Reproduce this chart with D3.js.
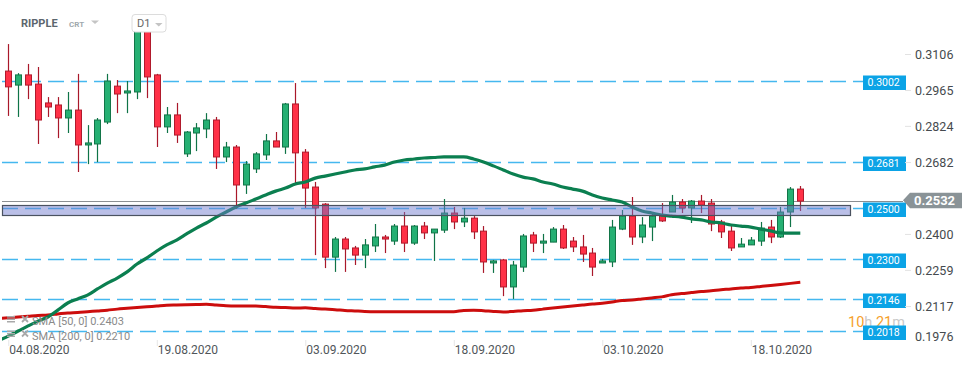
<!DOCTYPE html>
<html><head><meta charset="utf-8">
<script src="https://cdn.jsdelivr.net/npm/d3@7"></script>
<style>body{margin:0;background:#fff;} svg{display:block;font-family:Roboto, "DejaVu Sans", sans-serif;}</style>
</head><body><svg id="c" width="974" height="368"></svg>
<script>
// ---- data ----
const firstDay = "2020-08-04";   // first candle
const lastDay  = "2020-10-23";   // last candle
const smaFirstDay = "2020-08-03";
const open = [0.3039,0.2984,0.3024,0.2988,0.2914,0.2906,0.2855,0.2886,0.2749,0.2753,
0.2839,0.2980,0.2953,0.2957,0.3232,0.3024,0.2820,0.2867,0.2714,0.2796,
0.2812,0.2847,0.2702,0.2741,0.2592,0.2655,0.2710,0.2765,0.2741,0.2910,
0.2721,0.2584,0.2517,0.2309,0.2380,0.2345,0.2317,0.2353,0.2388,0.2372,
0.2431,0.2364,0.2431,0.2404,0.2415,0.2482,0.2447,0.2462,0.2411,0.2286,
0.2298,0.2192,0.2270,0.2396,0.2364,0.2368,0.2419,0.2372,0.2349,0.2325,
0.2286,0.2290,0.2419,0.2470,0.2388,0.2427,0.2474,0.2486,0.2525,0.2502,
0.2529,0.2521,0.2447,0.2411,0.2349,0.2357,0.2372,0.2427,0.2388,0.2486,
0.2576];
const high = [0.3145,0.3031,0.3067,0.3055,0.2937,0.2937,0.2957,0.3028,0.2827,0.2855,
0.3028,0.3004,0.3000,0.3247,0.3255,0.3028,0.2898,0.2914,0.2804,0.2835,
0.2874,0.2859,0.2761,0.2749,0.2686,0.2721,0.2792,0.2800,0.2914,0.2992,
0.2733,0.2604,0.2521,0.2388,0.2388,0.2353,0.2380,0.2439,0.2396,0.2439,
0.2486,0.2435,0.2447,0.2419,0.2537,0.2506,0.2502,0.2470,0.2431,0.2298,
0.2302,0.2294,0.2400,0.2408,0.2400,0.2427,0.2435,0.2388,0.2396,0.2345,
0.2302,0.2455,0.2494,0.2545,0.2466,0.2486,0.2521,0.2553,0.2537,0.2533,
0.2553,0.2537,0.2455,0.2431,0.2384,0.2388,0.2447,0.2455,0.2506,0.2584,
0.2588];
const low = [0.2863,0.2859,0.2929,0.2753,0.2859,0.2776,0.2796,0.2643,0.2674,0.2682,
0.2831,0.2874,0.2874,0.2929,0.2933,0.2741,0.2796,0.2757,0.2702,0.2725,
0.2776,0.2655,0.2682,0.2498,0.2557,0.2639,0.2690,0.2741,0.2714,0.2600,
0.2502,0.2317,0.2266,0.2251,0.2251,0.2278,0.2266,0.2329,0.2325,0.2357,
0.2329,0.2357,0.2380,0.2294,0.2404,0.2419,0.2427,0.2380,0.2247,0.2247,
0.2156,0.2145,0.2251,0.2329,0.2325,0.2368,0.2341,0.2329,0.2290,0.2235,
0.2286,0.2270,0.2415,0.2357,0.2364,0.2372,0.2447,0.2486,0.2482,0.2443,
0.2482,0.2411,0.2384,0.2333,0.2349,0.2357,0.2353,0.2364,0.2384,0.2427,
0.2490];
const close = [0.2977,0.3024,0.2984,0.2847,0.2898,0.2855,0.2886,0.2749,0.2757,0.2847,
0.3000,0.2949,0.2961,0.3232,0.3016,0.2820,0.2867,0.2788,0.2800,0.2816,
0.2847,0.2702,0.2741,0.2592,0.2674,0.2714,0.2765,0.2741,0.2910,0.2718,
0.2580,0.2502,0.2309,0.2380,0.2341,0.2317,0.2357,0.2388,0.2380,0.2431,
0.2364,0.2431,0.2404,0.2419,0.2482,0.2447,0.2462,0.2408,0.2290,0.2294,
0.2192,0.2278,0.2392,0.2364,0.2372,0.2419,0.2345,0.2349,0.2321,0.2270,
0.2294,0.2427,0.2470,0.2388,0.2435,0.2470,0.2451,0.2525,0.2502,0.2529,
0.2513,0.2439,0.2408,0.2345,0.2360,0.2376,0.2423,0.2388,0.2486,0.2576,
0.2529];
const sma50 = [0.1981, 0.1999,0.2019,0.2039,0.2058,0.2074,0.2101,0.2129,0.2145,0.2160,0.2184,
0.2207,0.2227,0.2251,0.2282,0.2306,0.2333,0.2357,0.2376,0.2400,0.2423,
0.2443,0.2466,0.2486,0.2506,0.2521,0.2537,0.2553,0.2568,0.2580,0.2596,
0.2604,0.2619,0.2627,0.2635,0.2643,0.2651,0.2655,0.2663,0.2670,0.2682,
0.2690,0.2694,0.2698,0.2700,0.2702,0.2702,0.2702,0.2694,0.2682,0.2667,
0.2651,0.2635,0.2623,0.2616,0.2604,0.2596,0.2584,0.2576,0.2568,0.2553,
0.2541,0.2533,0.2525,0.2506,0.2490,0.2482,0.2474,0.2470,0.2466,0.2459,
0.2455,0.2447,0.2443,0.2435,0.2431,0.2427,0.2419,0.2412,0.2404,0.2403,0.2403];
const sma200 = [0.2068, 0.2071,0.2074,0.2077,0.2080,0.2082,0.2086,0.2090,0.2092,0.2095,0.2098,
0.2101,0.2105,0.2108,0.2111,0.2114,0.2117,0.2120,0.2121,0.2122,0.2123,
0.2124,0.2121,0.2118,0.2117,0.2117,0.2117,0.2115,0.2112,0.2111,0.2109,
0.2110,0.2107,0.2105,0.2103,0.2100,0.2098,0.2096,0.2095,0.2095,0.2095,
0.2095,0.2095,0.2095,0.2095,0.2095,0.2095,0.2100,0.2101,0.2099,0.2096,
0.2094,0.2096,0.2099,0.2101,0.2105,0.2109,0.2113,0.2117,0.2121,0.2125,
0.2128,0.2133,0.2139,0.2141,0.2145,0.2149,0.2153,0.2161,0.2166,0.2170,
0.2174,0.2177,0.2181,0.2184,0.2188,0.2190,0.2194,0.2198,0.2202,0.2206,0.2210];
const levels = [0.3002, 0.2681, 0.2500, 0.2300, 0.2146, 0.2018];
const levelLabels = ["0.3002","0.2681","0.2500","0.2300","0.2146","0.2018"];
const band = [0.2474, 0.2513];
const lastPrice = 0.2532;
const lastPriceLabel = "0.2532";
const yTicks = [0.3106, 0.2965, 0.2824, 0.2682, 0.2400, 0.2259, 0.2117, 0.1976];
const yTickLabels = ["0.3106","0.2965","0.2824","0.2682","0.2400","0.2259","0.2117","0.1976"];
const xTickDates = ["2020-08-04","2020-08-19","2020-09-03","2020-09-18","2020-10-03","2020-10-18"];
const legendTexts = ["SMA [50, 0] 0.2403", "SMA [200, 0] 0.2210"];

// ---- scales ----
const parse = d3.utcParse("%Y-%m-%d");
const days = d3.utcDay.range(parse(firstDay), d3.utcDay.offset(parse(lastDay), 1));
const smaDays = d3.utcDay.range(parse(smaFirstDay), d3.utcDay.offset(parse(lastDay), 1));
const candles = days.map((d, i) => ({d, o: open[i], h: high[i], l: low[i], c: close[i]}));

const x = d3.scaleUtc().domain([parse(firstDay), parse(lastDay)]).range([8.3, 800.3]);
const y = d3.scaleLinear().domain([0.1976, 0.3106]).range([342, 54]);

const svg = d3.select("#c");
svg.append("defs").append("clipPath").attr("id", "plot")
  .append("rect").attr("x", 2).attr("y", 0).attr("width", 903).attr("height", 345);

// level dashed lines
const lv = svg.append("g");
lv.selectAll("line").data(levels).join("line")
  .attr("x1", 2).attr("x2", 863)
  .attr("y1", d => Math.round(y(d)) + 0.5).attr("y2", d => Math.round(y(d)) + 0.5)
  .attr("stroke", "#45b8ef").attr("stroke-width", 1.6)
  .attr("stroke-dasharray", "16 7");

// last price line
svg.append("line").attr("x1", 2).attr("x2", 903)
  .attr("y1", Math.round(y(lastPrice)) + 1.5).attr("y2", Math.round(y(lastPrice)) + 1.5)
  .attr("stroke", "#8b8f92").attr("stroke-width", 1);

// candles
const cg = svg.append("g").attr("clip-path", "url(#plot)");
const up = d => d.c >= d.o;
const cand = cg.selectAll("g").data(candles).join("g");
cand.append("line")
  .attr("x1", d => Math.round(x(d.d)) + 0.5).attr("x2", d => Math.round(x(d.d)) + 0.5)
  .attr("y1", d => y(d.h)).attr("y2", d => y(d.l))
  .attr("stroke", d => up(d) ? "#0f7447" : "#a9182a").attr("stroke-width", 1.2);
cand.append("rect")
  .attr("x", d => Math.round(x(d.d)) - 2.5).attr("width", 6)
  .attr("y", d => y(Math.max(d.o, d.c)))
  .attr("height", d => Math.max(1, Math.abs(y(d.o) - y(d.c))))
  .attr("fill", d => up(d) ? "#26b073" : "#ff3147")
  .attr("stroke", d => up(d) ? "#127548" : "#b01a2c").attr("stroke-width", 1);

// SMA lines
const lineGen = arr => d3.line().x((d, i) => x(smaDays[i])).y(d => y(d)).curve(d3.curveMonotoneX)(arr);
cg.append("path").attr("d", lineGen(sma200)).attr("fill", "none")
  .attr("stroke", "#cc0d0d").attr("stroke-width", 3).attr("stroke-linejoin", "round");
cg.append("path").attr("d", lineGen(sma50)).attr("fill", "none")
  .attr("stroke", "#0b7f50").attr("stroke-width", 3.2).attr("stroke-linejoin", "round");

// support band
svg.append("rect").attr("x", 2.5).attr("width", 848)
  .attr("y", Math.round(y(band[1])) + 0.5)
  .attr("height", Math.round(y(band[0])) - Math.round(y(band[1])))
  .attr("fill", "rgba(110,122,205,0.48)").attr("stroke", "#4a5260").attr("stroke-width", 1.2);

// timer (drawn under the level labels, as in the reference)
const tm = svg.append("text").attr("x", 848).attr("y", 327).attr("font-size", 14.5);
tm.append("tspan").attr("fill", "#f6a02a").text("10");
tm.append("tspan").attr("fill", "#c9c9c9").text("h ");
tm.append("tspan").attr("fill", "#f6a02a").text("21");
tm.append("tspan").attr("fill", "#c9c9c9").text("m");

// level labels
const ll = svg.append("g").selectAll("g").data(levels).join("g")
  .attr("transform", d => `translate(863,${Math.round(y(d)) - 5.5})`);
ll.append("rect").attr("width", 43).attr("height", 14.5).attr("fill", "#0ba3e6");
ll.append("text").attr("x", 4.5).attr("y", 10.5).attr("fill", "#fff")
  .attr("font-size", 10.5).text((d, i) => levelLabels[i]);

// right axis
const ra = svg.append("g").attr("transform", "translate(905,0)")
  .call(d3.axisRight(y).tickValues(yTicks).tickSize(6).tickPadding(4)
    .tickFormat((d, i) => yTickLabels[i]));
ra.select(".domain").remove();
ra.selectAll(".tick line").attr("stroke", "#e2e2e2");
ra.selectAll(".tick text").attr("fill", "#454a4e").attr("font-size", 12.5)
  .attr("font-family", "Roboto, sans-serif")
  .attr("dy", (d, i) => i === yTicks.length - 1 ? "-0.1em" : "0.34em");
ra.selectAll(".tick").filter((d, i) => i === yTicks.length - 1).select("line").remove();

// last price tag
const ly = y(lastPrice);
svg.append("path")
  .attr("d", `M903,${ly} L910,${ly - 7.5} L962,${ly - 7.5} L962,${ly + 8} L910,${ly + 8} Z`)
  .attr("fill", "#8a9397");
svg.append("text").attr("x", 914).attr("y", ly + 5).attr("fill", "#fff")
  .attr("font-size", 13).attr("font-weight", "bold").text(lastPriceLabel);

// x axis
const xa = svg.append("g").attr("transform", "translate(0,340)")
  .call(d3.axisBottom(x).tickValues(xTickDates.map(parse)).tickSize(6)
    .tickFormat(d3.utcFormat("%d.%m.%Y")));
xa.select(".domain").remove();
xa.selectAll(".tick line").attr("stroke", "#e6e6e6");
xa.selectAll(".tick text").attr("text-anchor", "start").attr("x", 0.5).attr("y", 14).attr("dy", 0)
  .attr("fill", "#50565a").attr("font-size", 12).attr("font-family", "Roboto, sans-serif");

// legend
const lg = svg.append("g");
legendTexts.forEach((t, i) => {
  const by = 325 + i * 14.5;
  [0, 2.5, 5].forEach(o => lg.append("rect").attr("x", 7).attr("y", by - 9 + o).attr("width", 8).attr("height", 1.5).attr("fill", "#a9a9a9"));
  lg.append("path").attr("d", `M22,${by - 9} L28,${by - 3} M28,${by - 9} L22,${by - 3}`)
    .attr("stroke", "#a9a9a9").attr("stroke-width", 1.8);
  lg.append("text").attr("x", 32).attr("y", by).attr("fill", "#8a8a8a")
    .attr("font-size", 11).text(t);
});

// header
svg.append("text").attr("x", 21).attr("y", 26.7).attr("font-size", 11).attr("font-weight", "bold")
  .attr("fill", "#5c666e").text("RIPPLE");
svg.append("text").attr("x", 69).attr("y", 26.7).attr("font-size", 8).attr("font-weight", "bold")
  .attr("fill", "#a0a8ad").text("CRT");
svg.append("path").attr("d", "M91,20.5 L99,20.5 L95,24 Z").attr("fill", "#c4c4c4");
svg.append("rect").attr("x", 132).attr("y", 14.5).attr("width", 34).attr("height", 17.5).attr("rx", 3)
  .attr("fill", "#fff").attr("stroke", "#dcdcdc");
svg.append("text").attr("x", 137).attr("y", 27).attr("font-size", 11).attr("fill", "#666").text("D1");
svg.append("path").attr("d", "M155,23 L162.5,23 L158.75,26.5 Z").attr("fill", "#c4c4c4");
</script></body></html>
